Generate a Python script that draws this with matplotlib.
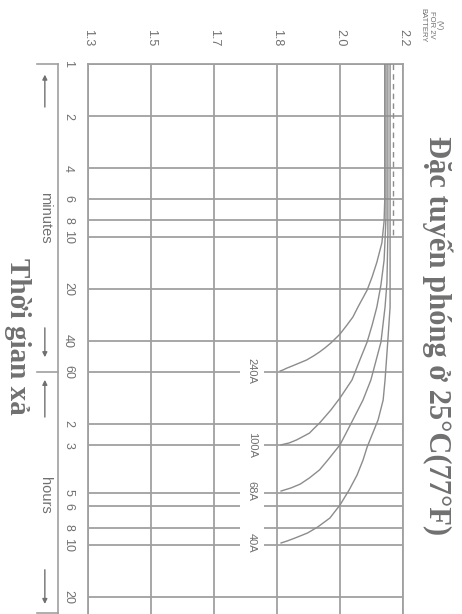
import numpy as np
import matplotlib
matplotlib.use("Agg")
import matplotlib.pyplot as plt
from matplotlib.transforms import blended_transform_factory

# voltage axis: the source spaces these labels evenly whatever the step
volt_ticks = [1.3, 1.5, 1.7, 1.8, 2.0, 2.2]
volt_labels = ["1.3", "1.5", "1.7", "1.8", "2.0", "2.2"]

# time axis in minutes (log); the "3" hour line sits near 160 min in the source
time_ticks = [1, 2, 4, 6, 8, 10, 20, 40, 60, 120, 160, 300, 360, 480, 600, 1200]
time_labels = ["1", "2", "4", "6", "8", "10", "20", "40", "60",
               "2", "3", "5", "6", "8", "10", "20"]

# discharge curves: minutes / volts per cell
t_240 = [1, 6.1, 8.1, 10.8, 11.9, 14.0, 17.0, 20.3, 25.4, 29.0, 32.3, 36.4,
         41.0, 43.8, 46.2, 48.7, 51.4, 53.5, 55.7, 57.2, 58.7, 59.5]
v_240 = [2.142, 2.142, 2.140, 2.133, 2.127, 2.117, 2.102, 2.086, 2.057, 2.041,
         2.022, 2.000, 1.971, 1.952, 1.935, 1.916, 1.894, 1.871, 1.848, 1.832,
         1.819, 1.810]

t_100 = [1, 7.7, 10.4, 13.6, 18.9, 25.4, 32.3, 40.5, 51.4, 67.1, 85.2, 100,
         119, 127, 136, 141, 149, 155, 159]
v_100 = [2.146, 2.146, 2.143, 2.140, 2.130, 2.117, 2.102, 2.086, 2.063, 2.038,
         2.000, 1.971, 1.935, 1.919, 1.903, 1.887, 1.862, 1.839, 1.813]

t_68 = [1, 9.5, 18.4, 25.4, 40.5, 67.1, 87.6, 114, 159, 195, 222, 247, 268,
        282, 294]
v_68 = [2.152, 2.152, 2.149, 2.143, 2.130, 2.098, 2.073, 2.041, 2.000, 1.961,
        1.935, 1.903, 1.874, 1.845, 1.813]

t_40 = [1, 10.8, 25.4, 39.4, 67.1, 87.6, 114, 164, 195, 238, 290, 354, 421,
        475, 514, 549, 572, 587]
v_40 = [2.159, 2.159, 2.159, 2.152, 2.143, 2.137, 2.121, 2.086, 2.073, 2.054,
        2.029, 2.000, 1.968, 1.929, 1.897, 1.858, 1.832, 1.813]

curve_names = ["240A", "100A", "68A", "40A"]
curve_t = [t_240, t_100, t_68, t_40]
curve_v = [v_240, v_100, v_68, v_40]

# dashed reference line at the top of the chart
dash_t = [1, 10]
dash_v = [2.168, 2.168]

GRID = "#a0a0a0"
CURVE = "#8c8c8c"
TEXT = "#707070"

pos = np.arange(len(volt_ticks), dtype=float)


def _fwd(v):
    return np.interp(v, volt_ticks, pos)


def _inv(p):
    return np.interp(p, pos, volt_ticks)


fig = plt.figure(figsize=(4.62, 6.14), dpi=100)
ax = fig.add_axes([88 / 462, 0.0, 315 / 462, 1 - 64 / 614])

ax.set_xscale("function", functions=(_fwd, _inv))
ax.set_yscale("log")
ax.set_xlim(1.3, 2.2)
ax.set_ylim(1511, 1)

ax.set_xticks(volt_ticks)
ax.set_xticklabels(volt_labels)
ax.set_yticks(time_ticks)
ax.set_yticklabels(time_labels)
ax.yaxis.set_minor_locator(matplotlib.ticker.NullLocator())
ax.xaxis.set_minor_locator(matplotlib.ticker.NullLocator())
ax.xaxis.tick_top()
ax.tick_params(axis="x", length=0, pad=13, labelsize=9, labelcolor=TEXT,
               labelrotation=-90)
ax.tick_params(axis="y", length=0, pad=10, labelsize=9, labelcolor=TEXT,
               labelrotation=-90)
for lab in ax.get_xticklabels() + ax.get_yticklabels():
    lab.set_family("Liberation Sans")
for lab in ax.get_yticklabels():
    lab.set_verticalalignment("center")

ax.grid(True, color=GRID, lw=1.3)
ax.set_axisbelow(True)
for side in ("top", "left", "right"):
    ax.spines[side].set_color(GRID)
    ax.spines[side].set_linewidth(1.3)
ax.spines["bottom"].set_visible(False)

for name, t, v in zip(curve_names, curve_t, curve_v):
    ax.plot(v, t, color=CURVE, lw=1.0, zorder=3)
    ax.text(1.76, t[-1], name, rotation=-90, ha="center", va="center",
            fontsize=8, color=TEXT, family="Liberation Sans", zorder=4,
            bbox=dict(facecolor="white", edgecolor="none", pad=5))

ax.plot(dash_v, dash_t, color=CURVE, lw=1.0, ls=(0, (4, 3)), zorder=3)

# bracket with arrows on the left: minutes | hours
tr = blended_transform_factory(ax.transAxes, ax.transData)
ax.plot([-0.095, -0.095], [1, 1511], color=GRID, lw=1.2, transform=tr,
        clip_on=False)
for tt in (1, 60, 1490):
    ax.plot([-0.162, -0.095], [tt, tt], color=GRID, lw=1.2, transform=tr,
            clip_on=False)
arrow = dict(arrowstyle="-|>", color=TEXT, lw=1.0, mutation_scale=7)
for head, tail in ((1.11, 1.84), (51.4, 32.3), (64.5, 114), (1372, 808)):
    ax.annotate("", xy=(-0.137, head), xytext=(-0.137, tail),
                xycoords=tr, textcoords=tr, arrowprops=arrow,
                annotation_clip=False)
ax.text(-0.137, 7.77, "minutes", transform=tr, rotation=-90, ha="center",
        va="center", fontsize=10.5, color=TEXT, family="Liberation Sans")
ax.text(-0.137, 310, "hours", transform=tr, rotation=-90, ha="center",
        va="center", fontsize=10.5, color=TEXT, family="Liberation Sans")

fig.text(437 / 462, 1 - 336 / 614, "Đặc tuyến phóng ở 25°C(77°F)",
         rotation=-90, ha="center", va="center", fontsize=22,
         fontweight="bold", color=TEXT, family="Liberation Serif")
fig.text(17 / 462, 1 - 336 / 614, "Thời gian xả", rotation=-90,
         ha="center", va="center", fontsize=21, fontweight="bold",
         color=TEXT, family="Liberation Serif")
fig.text(431 / 462, 1 - 25 / 614, "(V)\nFOR 2V\nBATTERY", rotation=-90,
         ha="center", va="center", fontsize=5.5, linespacing=1.3,
         color=TEXT, family="Liberation Sans", multialignment="center")

fig.savefig("out.png", dpi=100)
